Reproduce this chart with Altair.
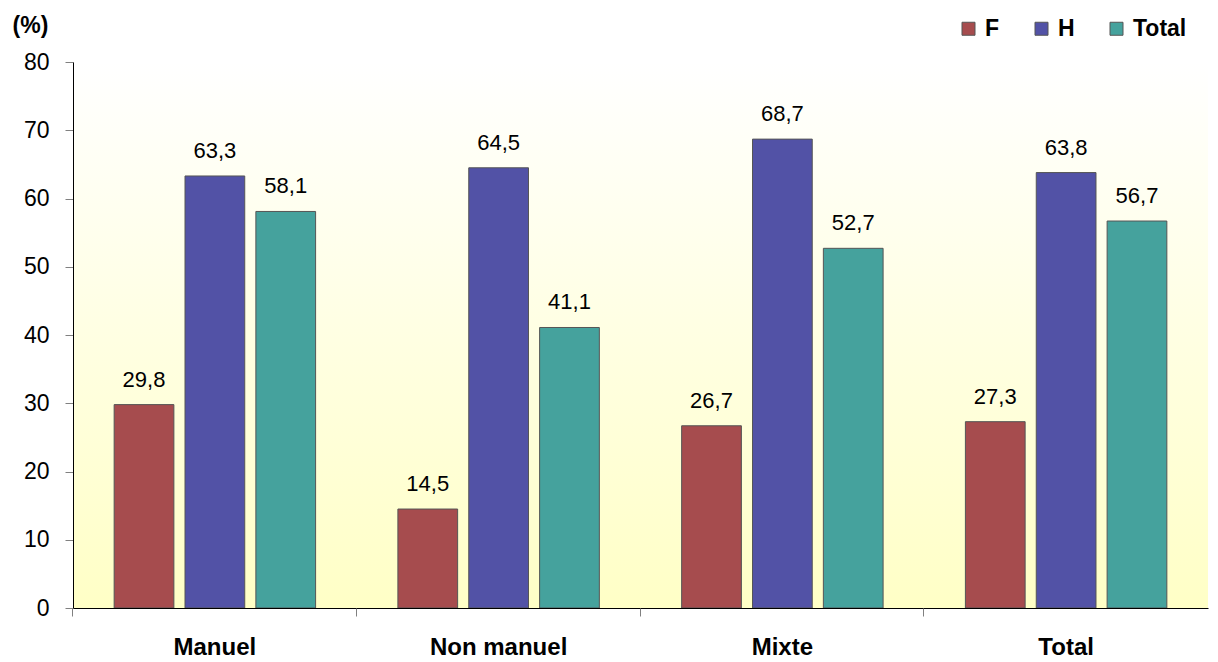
import altair as alt
import pandas as pd

categories = ["Manuel", "Non manuel", "Mixte", "Total"]
series = ["F", "H", "Total"]
values_F = [29.8, 14.5, 26.7, 27.3]
values_H = [63.3, 64.5, 68.7, 63.8]
values_T = [58.1, 41.1, 52.7, 56.7]
colors = ["#A64C4E", "#5252A6", "#45A29D"]

rows = []
for i, c in enumerate(categories):
    for s, vals in zip(series, [values_F, values_H, values_T]):
        v = vals[i]
        rows.append({"cat": c, "serie": s, "val": v, "lab": f"{v:.1f}".replace(".", ",")})
df = pd.DataFrame(rows)

W, H = 1135, 546

xscale = alt.Scale(domain=categories, paddingInner=0.29, paddingOuter=0.145)
xoff = alt.Scale(domain=series, paddingInner=0.157, paddingOuter=0)
yscale = alt.Scale(domain=[0, 80])

yaxis = alt.Axis(title="(%)", titleAngle=0, titleFont="Liberation Sans",
                 titleFontSize=23, titleFontWeight="bold", titleX=-43, titleY=-37,
                 titleAlign="center", titleBaseline="middle", titleColor="black",
                 values=list(range(0, 81, 10)), labelFont="Liberation Sans",
                 labelFontSize=23, labelColor="black", tickSize=8,
                 tickColor="#808080", domainColor="black", grid=False,
                 labelPadding=16, zindex=1)

base = alt.Chart(df)

grad = alt.LinearGradient(
    gradient="linear", x1=0, y1=0, x2=0, y2=1,
    stops=[alt.GradientStop(offset=0, color="#FFFFFF"),
           alt.GradientStop(offset=1, color="#FFFFC6")],
)
bg = alt.Chart(pd.DataFrame({"a": [0]})).mark_rect(color=grad).encode(
    x=alt.value(0), x2=alt.value(W), y=alt.value(0), y2=alt.value(H)
)

bars = base.mark_bar(stroke="#555555", strokeWidth=1).encode(
    x=alt.X("cat:N", scale=xscale, sort=categories,
            axis=alt.Axis(title=None, orient="bottom", labelFont="Liberation Sans",
                          labelFontSize=24, labelFontWeight="bold", labelColor="black",
                          ticks=False, labelPadding=27, domain=True, domainColor="black",
                          labelAngle=0, zindex=1)),
    xOffset=alt.XOffset("serie:N", scale=xoff, sort=series),
    y=alt.Y("val:Q", scale=yscale, axis=yaxis),
    color=alt.Color("serie:N", scale=alt.Scale(domain=series, range=colors), sort=series,
                    legend=alt.Legend(title=None, orient="none", legendX=884, legendY=-45,
                                      direction="horizontal", symbolType="square",
                                      symbolSize=169, symbolStrokeColor="#555555",
                                      symbolStrokeWidth=1, labelFont="Liberation Sans",
                                      labelFontSize=23, labelFontWeight="bold",
                                      labelColor="black", columnPadding=30, labelOffset=5)),
)

labels = base.mark_text(baseline="bottom", dy=-13, font="Liberation Sans",
                        fontSize=22, color="black").encode(
    x=alt.X("cat:N", scale=xscale, sort=categories, axis=None),
    xOffset=alt.XOffset("serie:N", scale=xoff, sort=series),
    y=alt.Y("val:Q", scale=yscale, axis=yaxis),
    text="lab:N",
)

ticks = base.mark_bar(opacity=0).encode(
    x=alt.X("cat:N", scale=xscale, sort=categories,
            axis=alt.Axis(title=None, orient="bottom", labels=False, domain=False,
                          ticks=True, tickSize=8, tickColor="#808080",
                          bandPosition=-0.206, zindex=1)),
    y=alt.Y("val:Q", scale=yscale, axis=yaxis),
)

chart = alt.layer(bg, bars, labels, ticks).resolve_axis(x="independent").properties(
    width=W, height=H,
    autosize=alt.AutoSizeParams(type="none"),
    padding={"left": 65, "top": 54, "right": 2, "bottom": 54},
    background="white",
).configure_view(stroke=None)

chart.save("out.html", embed_options={"renderer": "svg", "actions": False})
